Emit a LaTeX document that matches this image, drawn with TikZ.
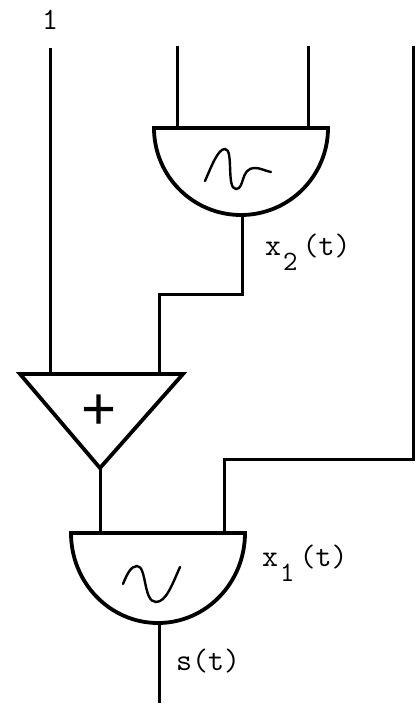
\documentclass[tikz,border=0pt]{standalone}
\usepackage{fontspec}
\setmainfont{Liberation Sans}
\begin{document}
\begin{tikzpicture}[x=1pt,y=-1pt,
  wire/.style={line width=3pt,black},
  gate/.style={line width=3.8pt,black,line join=miter},
  wave/.style={line width=2.4pt,black,line cap=round},
  lbl/.style={inner sep=0pt,font=\ttfamily\fontsize{31}{31}\selectfont,text=black}]
\useasboundingbox (0,0) rectangle (418,704);
\fill[white] (0,0) rectangle (418,704);
% free ends
\coordinate (one) at (50,48);
\coordinate (ina) at (177,46);
\coordinate (inb) at (308,46);
\coordinate (inc) at (413,46);
\coordinate (out) at (159,703);
% anchors on the shapes
\coordinate (g2a) at (177,128);
\coordinate (g2b) at (308,128);
\coordinate (g2o) at (242,215);
\coordinate (sa) at (50,374);
\coordinate (sb) at (159,374);
\coordinate (so) at (100,468);
\coordinate (g1a) at (100,533);
\coordinate (g1b) at (224,533);
\coordinate (g1o) at (159,623);
% connectors
\draw[wire] (ina) -- (g2a);
\draw[wire] (inb) -- (g2b);
\draw[wire] (g2o) |- (sb |- 0,294) -- (sb);
\draw[wire] (one) -- (sa);
\draw[wire] (so) -- (g1a);
\draw[wire] (inc) |- (g1b |- 0,459) -- (g1b);
\draw[wire] (g1o) -- (out);
% upper gate
\draw[gate] (154,128) -- (328,128) arc[start angle=0,end angle=180,x radius=87,y radius=87] -- cycle;
\draw[wave] (205,181) .. controls (212,165) and (218,149) .. (225,149)
  .. controls (234,149) and (226,189) .. (236,189)
  .. controls (245,189) and (240,168) .. (255,168)
  .. controls (261,168) and (265,171) .. (271,172);
% adder
\draw[gate] (20,374) -- (183,374) -- (100,468) -- cycle;
\node[inner sep=0pt,font=\fontsize{60}{60}\selectfont] (plus) at (99,412) {+};
% lower gate
\draw[gate] (71,533) -- (245,533) arc[start angle=0,end angle=180,x radius=87,y radius=90] -- cycle;
\draw[wave] (123,584) .. controls (127,574) and (131,566) .. (137,566)
  .. controls (147,566) and (143,602) .. (156,602)
  .. controls (166,602) and (172,585) .. (180,567);
% labels
\node[lbl,anchor=base] (l1) at (50,29) {1};
\node[lbl,anchor=base west] (l2) at (265,255) {x\kern2pt\raisebox{-15pt}{\fontsize{28}{28}\selectfont 2}\kern5pt(t)};
\node[lbl,anchor=base west] (l3) at (262,566) {x\kern2pt\raisebox{-15pt}{\fontsize{28}{28}\selectfont 1}\kern5pt(t)};
\node[lbl,anchor=base west] (l4) at (176,670) {s(t)};
\end{tikzpicture}
\end{document}
